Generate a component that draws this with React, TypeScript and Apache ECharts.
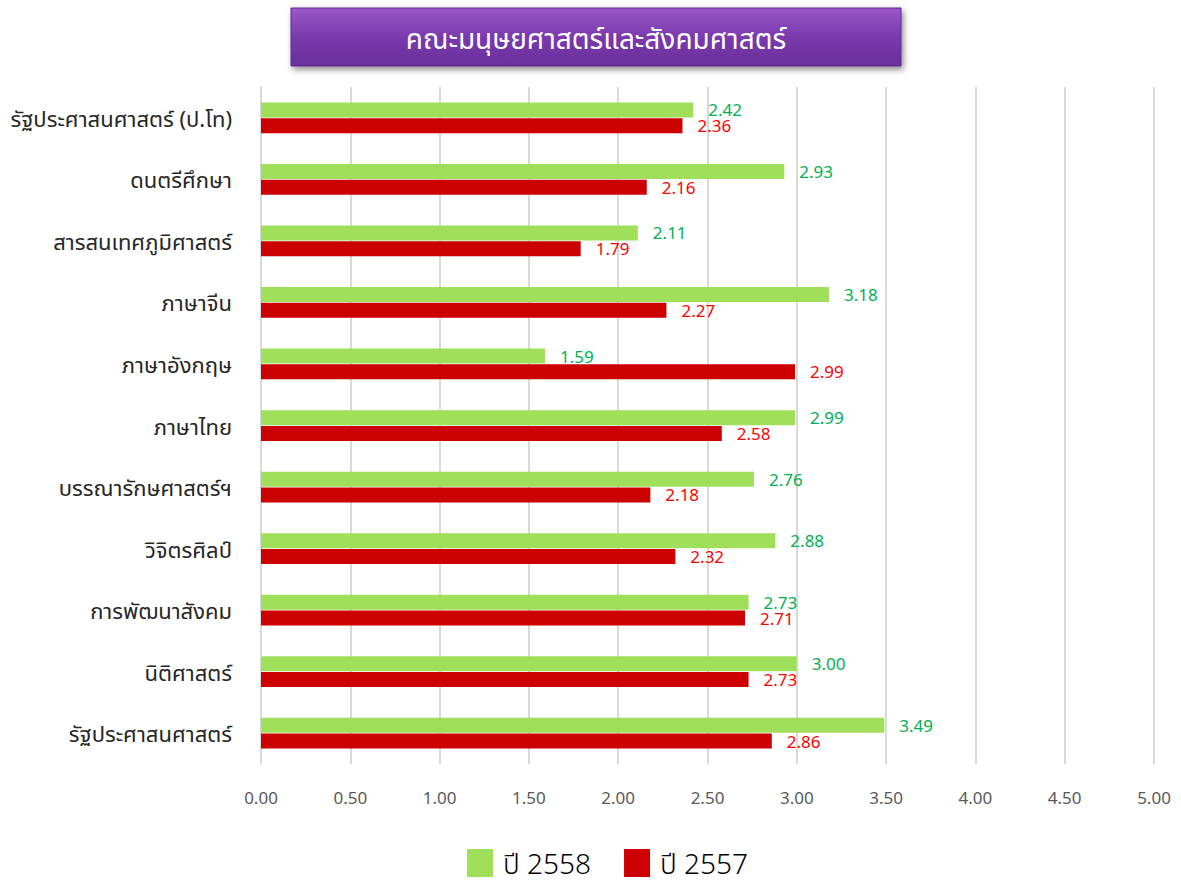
import React, { useEffect, useRef } from "react";
import * as echarts from "echarts";

const categories = [
  "รัฐประศาสนศาสตร์ (ป.โท)",
  "ดนตรีศึกษา",
  "สารสนเทศภูมิศาสตร์",
  "ภาษาจีน",
  "ภาษาอังกฤษ",
  "ภาษาไทย",
  "บรรณารักษศาสตร์ฯ",
  "วิจิตรศิลป์",
  "การพัฒนาสังคม",
  "นิติศาสตร์",
  "รัฐประศาสนศาสตร์",
];
const values2558 = [2.42, 2.93, 2.11, 3.18, 1.59, 2.99, 2.76, 2.88, 2.73, 3.0, 3.49];
const values2557 = [2.36, 2.16, 1.79, 2.27, 2.99, 2.58, 2.18, 2.32, 2.71, 2.73, 2.86];
const seriesNames = ["ปี 2558", "ปี 2557"];
const title = "คณะมนุษยศาสตร์และสังคมศาสตร์";

const FONT = "'Noto Sans', 'Noto Sans Thai', Tahoma, sans-serif";

export default function App() {
  const ref = useRef<HTMLDivElement>(null);
  useEffect(() => {
    if (!ref.current) return;
    const chart = echarts.init(ref.current, undefined, { renderer: "svg" });
    chart.setOption({
      animation: false,
      backgroundColor: "#ffffff",
      textStyle: { fontFamily: FONT },
      grid: { left: 261, right: 27, top: 87, bottom: 121, containLabel: false },
      graphic: [
        {
          type: "rect",
          shape: { x: 291, y: 8, width: 610, height: 58 },
          style: {
            fill: new echarts.graphic.LinearGradient(0, 0, 0, 1, [
              { offset: 0, color: "#9a56c8" },
              { offset: 0.5, color: "#7a3aad" },
              { offset: 1, color: "#6a2f9c" },
            ]),
            stroke: "#5c2888",
            lineWidth: 1,
            shadowBlur: 6,
            shadowOffsetX: 2,
            shadowOffsetY: 3,
            shadowColor: "rgba(0,0,0,0.45)",
          },
        },
        {
          type: "text",
          x: 596,
          y: 38,
          style: {
            text: title,
            fill: "#ffffff",
            fontSize: 28,
            fontFamily: FONT,
            align: "center",
            verticalAlign: "middle",
          },
        },
      ],
      legend: {
        bottom: 3,
        left: 462,
        itemWidth: 26,
        itemHeight: 28,
        itemGap: 33,
        icon: "rect",
        textStyle: {
          fontSize: 28,
          color: "#000000",
          fontFamily: FONT,
          fontWeight: 300,
          padding: [0, 0, 0, 5],
        },
        data: seriesNames,
      },
      xAxis: {
        type: "value",
        min: 0,
        max: 5,
        interval: 0.5,
        axisLine: { show: false },
        axisTick: { show: false },
        splitLine: { show: true, lineStyle: { color: "#d9d9d9", width: 2 } },
        axisLabel: {
          formatter: (v: number) => v.toFixed(2),
          color: "#595959",
          fontSize: 17,
          margin: 25,
          fontFamily: FONT,
        },
      },
      yAxis: {
        type: "category",
        inverse: true,
        data: categories,
        axisLine: { show: true, lineStyle: { color: "#d9d9d9", width: 2 } },
        axisTick: { show: false },
        axisLabel: { color: "#262626", fontSize: 22, margin: 29, fontFamily: FONT },
      },
      series: [
        {
          name: seriesNames[0],
          type: "bar",
          data: values2558,
          barWidth: 15,
          barGap: "5%",
          itemStyle: { color: "#9fdf5a" },
          label: {
            show: true,
            position: "right",
            distance: 15,
            color: "#00b050",
            fontSize: 17,
            fontFamily: FONT,
            formatter: (p: any) => Number(p.value).toFixed(2),
          },
        },
        {
          name: seriesNames[1],
          type: "bar",
          data: values2557,
          barWidth: 15,
          barGap: "5%",
          itemStyle: { color: "#cc0000" },
          label: {
            show: true,
            position: "right",
            distance: 15,
            color: "#ff0000",
            fontSize: 17,
            fontFamily: FONT,
            formatter: (p: any) => Number(p.value).toFixed(2),
          },
        },
      ],
    });
    return () => chart.dispose();
  }, []);
  return <div ref={ref} style={{ width: 1181, height: 885, position: "absolute", left: 0, top: 0 }} />;
}
